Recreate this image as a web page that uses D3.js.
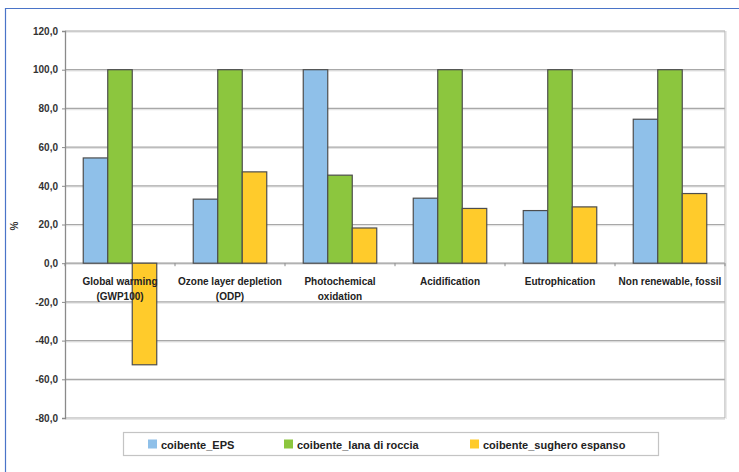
<!DOCTYPE html>
<html><head><meta charset="utf-8">
<script src="https://cdn.jsdelivr.net/npm/d3@7"></script>
<style>body{margin:0;background:#fff;} svg{display:block;}</style>
</head><body>
<script>
const categories = [["Global warming","(GWP100)"],["Ozone layer depletion","(ODP)"],["Photochemical","oxidation"],["Acidification"],["Eutrophication"],["Non renewable, fossil"]];
const seriesNames = ["coibente_EPS","coibente_lana di roccia","coibente_sughero espanso"];
const epsValues = [54.4, 33.1, 100, 33.6, 27.2, 74.4];
const lanaValues = [100, 100, 45.5, 100, 100, 100];
const sugheroValues = [-52.5, 47.2, 18.2, 28.3, 29.1, 36.0];
const yTicks = [120, 100, 80, 60, 40, 20, 0, -20, -40, -60, -80];
const colors = ["#8fc0e9", "#8cc63e", "#ffcb2b"];

const W = 739, H = 472;
const svg = d3.select("body").append("svg").attr("width", W).attr("height", H);
const font = "'Liberation Sans', Arial, sans-serif";

// outer frame
svg.append("path").attr("d", `M5.5,${H} L5.5,8.5 L${W},8.5`).attr("fill","none").attr("stroke","#4a74c8").attr("stroke-width",1.2);

const L = 65, R = 725, T = 31, B = 418;
const y = d3.scaleLinear().domain([-80, 120]).range([B, T]);
const x0 = d3.scaleBand().domain(d3.range(categories.length)).range([L, R]).paddingInner(0).paddingOuter(0);
const x1 = d3.scaleBand().domain(d3.range(3)).range([0, 73.5]);

// gridlines
const g = svg.append("g");
yTicks.forEach(t => {
  g.append("line").attr("x1", L).attr("x2", R).attr("y1", y(t)+1.2).attr("y2", y(t)+1.2).attr("stroke","#e4e4e4").attr("stroke-width",1.2);
  g.append("line").attr("x1", L).attr("x2", R).attr("y1", y(t)).attr("y2", y(t)).attr("stroke", t===0 ? "#9a9a9a" : "#a8a8a8").attr("stroke-width",1.2);
});
// plot border right and bottom
svg.append("line").attr("x1",R).attr("x2",R).attr("y1",T).attr("y2",B).attr("stroke","#b8b8b8").attr("stroke-width",1.2);
svg.append("line").attr("x1",R+1.2).attr("x2",R+1.2).attr("y1",T).attr("y2",B+1).attr("stroke","#e6e6e6").attr("stroke-width",1.2);
svg.append("line").attr("x1",L).attr("x2",R).attr("y1",B+1.2).attr("y2",B+1.2).attr("stroke","#e4e4e4").attr("stroke-width",1.2);

// y axis
const yAxis = d3.axisLeft(y).tickValues(yTicks).tickSize(3).tickFormat(d => d.toFixed(1).replace(".", ","));
const ya = svg.append("g").attr("transform", `translate(${L},0)`).call(yAxis);
ya.select(".domain").attr("stroke","#8a8a8a").attr("stroke-width",1.3);
ya.selectAll(".tick line").attr("stroke","#8a8a8a");
ya.selectAll("text").attr("font-family", font).attr("font-size", 10).attr("font-weight","bold").attr("fill","#333").attr("x",-7);

// x tick marks at zero line
const xTickPos = d3.range(categories.length + 1).map(i => i < categories.length ? x0(i) : R);
svg.selectAll(".xt").data(xTickPos).enter().append("line")
  .attr("x1", d => d).attr("x2", d => d).attr("y1", y(0)).attr("y2", y(0)+3)
  .attr("stroke","#8a8a8a").attr("stroke-width",1);

// bars
const series = [epsValues, lanaValues, sugheroValues];
const bars = svg.append("g");
categories.forEach((c, i) => {
  const gx = x0(i) + (x0.bandwidth() - 73.5) / 2;
  series.forEach((vals, s) => {
    const v = vals[i];
    bars.append("rect")
      .attr("x", gx + x1(s))
      .attr("width", x1.bandwidth())
      .attr("y", y(Math.max(0, v)))
      .attr("height", Math.abs(y(v) - y(0)))
      .attr("fill", colors[s])
      .attr("stroke", "#4d4d4d").attr("stroke-width", 1.2);
  });
});

// category labels
const lab = svg.append("g");
categories.forEach((c, i) => {
  const t = lab.append("text").attr("x", x0(i) + x0.bandwidth()/2).attr("y", 285)
    .attr("text-anchor","middle").attr("font-family", font).attr("font-size",10).attr("font-weight","bold").attr("fill","#222");
  c.forEach((line, k) => t.append("tspan").attr("x", x0(i) + x0.bandwidth()/2).attr("dy", k === 0 ? 0 : 15).text(line));
});

// y axis title
svg.append("text").attr("transform","translate(18,226) rotate(-90)").attr("text-anchor","middle")
  .attr("font-family", font).attr("font-size",10).attr("font-weight","bold").attr("fill","#333").text("%");

// legend
const lg = svg.append("g");
lg.append("rect").attr("x",123.5).attr("y",432.5).attr("width",535).attr("height",23).attr("fill","#fff").attr("stroke","#c4c4c4").attr("stroke-width",1.2);
const legX = [148, 284, 470];
seriesNames.forEach((n, s) => {
  lg.append("rect").attr("x", legX[s]).attr("y", 439.5).attr("width", 9).attr("height", 9).attr("fill", colors[s]);
  lg.append("text").attr("x", legX[s] + 13).attr("y", 448.5).attr("font-family", font).attr("font-size", 11).attr("font-weight","bold").attr("fill","#222").text(n);
});
</script>
</body></html>
